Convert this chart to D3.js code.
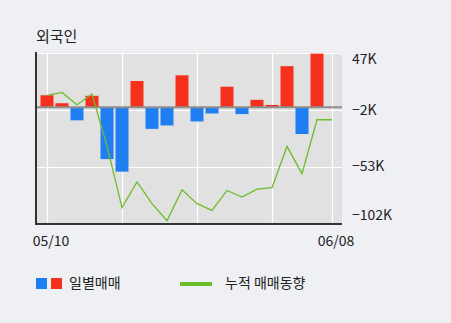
<!DOCTYPE html>
<html><head><meta charset="utf-8">
<script src="https://cdn.jsdelivr.net/npm/d3@7/dist/d3.min.js"></script>
<style>
html,body{margin:0;padding:0;background:#eef0f3;}
svg{display:block;}
text{font-family:"Noto Sans CJK KR","Noto Sans",sans-serif;fill:#222;}
</style></head><body>
<script>
// Data (values in thousands of shares)
const dates = ["05/10","05/11","05/12","05/13","05/16","05/17","05/18","05/19","05/20","05/23",
               "05/24","05/25","05/26","05/27","05/30","05/31","06/02","06/03","06/07","06/08"];
const daily = [10.5, 3.5, -11.5, 10, -45.5, -56.5, 23, -19, -16, 28,
               -12.5, -5.5, 18, -6, 6.5, 2, 36, -23.5, 47, 0];
const cumulative = [10.4, 13, 2.2, 11.6, -34, -88, -65.6, -84.6, -99.6, -72.4,
                    -84.6, -90.5, -73, -78.8, -71.8, -70.6, -34.4, -58.3, -11, -11];
const yTickLabels = ["47K", "-2K", "-53K", "-102K"];
const xLabelDates = ["05/10", "06/08"];
const gridDates = ["05/10", "05/17", "05/24", "05/31", "06/08"];
const yMin = -102, yMax = 48;

const W = 451, H = 323;
const pLeft = 37, pRight = 342, pTop = 52.5, pBottom = 223.5;

const svg = d3.select("body").append("svg").attr("width", W).attr("height", H);

const x = d3.scalePoint().domain(dates).range([47, 332]);
const y = d3.scaleLinear().domain([yMin, yMax]).range([pBottom, pTop]);

// plot background
svg.append("rect").attr("x", pLeft).attr("y", pTop).attr("width", pRight - pLeft).attr("height", pBottom - pTop)
  .attr("fill", "#e1e1e1");

// horizontal gridlines (evenly spaced ticks)
const tickPos = yTickLabels.map((d, i) => pTop + i * (pBottom - pTop) / (yTickLabels.length - 1));
svg.append("g").selectAll("line").data(tickPos.slice(0, 3)).join("line")
  .attr("x1", pLeft).attr("x2", pRight)
  .attr("y1", d => Math.round(d) + 0.5).attr("y2", d => Math.round(d) + 0.5)
  .attr("stroke", "#fff").attr("stroke-width", 1.2);

// vertical gridlines
svg.append("g").selectAll("line").data(gridDates).join("line")
  .attr("x1", d => Math.round(x(d)) + 0.5).attr("x2", d => Math.round(x(d)) + 0.5)
  .attr("y1", pTop).attr("y2", pBottom)
  .attr("stroke", "#fff").attr("stroke-width", 1.2);

// bars
const bw = 13;
svg.append("g").selectAll("rect").data(dates.map((d, i) => ({d, v: daily[i]})).filter(o => o.v !== 0)).join("rect")
  .attr("x", o => x(o.d) - bw / 2)
  .attr("width", bw)
  .attr("y", o => y(Math.max(0, o.v)))
  .attr("height", o => Math.abs(y(o.v) - y(0)))
  .attr("fill", o => o.v >= 0 ? "#f5301c" : "#1f7ef2");

// zero line
svg.append("line").attr("x1", pLeft).attr("x2", pRight)
  .attr("y1", y(0)).attr("y2", y(0))
  .attr("stroke", "#8e8e8e").attr("stroke-width", 2);

// cumulative line
svg.append("path")
  .datum(dates.map((d, i) => [x(d), y(cumulative[i])]))
  .attr("d", d3.line())
  .attr("fill", "none").attr("stroke", "#6cbd2a").attr("stroke-width", 1.3);

// axes lines
svg.append("line").attr("x1", 36).attr("x2", 36).attr("y1", 52).attr("y2", 225)
  .attr("stroke", "#333").attr("stroke-width", 2);
svg.append("line").attr("x1", 35).attr("x2", pRight).attr("y1", 224).attr("y2", 224)
  .attr("stroke", "#333").attr("stroke-width", 2);

// y labels
const labelY = [59, 110, 166, 215];
svg.append("g").selectAll("text").data(yTickLabels).join("text")
  .attr("x", 352).attr("y", (d, i) => labelY[i])
  .attr("dy", "0.35em").attr("font-size", 14).attr("fill", "#333")
  .text(d => d.replace("-", "\u2212"));

// x labels
svg.append("g").selectAll("text").data(xLabelDates).join("text")
  .attr("x", d => x(d) + 4).attr("y", 241).attr("dy", "0.35em")
  .attr("text-anchor", "middle").attr("font-size", 14).attr("fill", "#333")
  .text(d => d);

// title
svg.append("text").attr("x", 36).attr("y", 37).attr("dy", "0.35em")
  .attr("font-size", 15).attr("fill", "#333").text("외국인");

// legend
svg.append("rect").attr("x", 36).attr("y", 278).attr("width", 11).attr("height", 11).attr("fill", "#1f7ef2");
svg.append("rect").attr("x", 51).attr("y", 278).attr("width", 11).attr("height", 11).attr("fill", "#f5301c");
svg.append("text").attr("x", 69).attr("y", 283).attr("dy", "0.35em").attr("font-size", 14).attr("fill", "#333").text("일별매매");
svg.append("line").attr("x1", 180).attr("x2", 212).attr("y1", 284).attr("y2", 284)
  .attr("stroke", "#6cbd2a").attr("stroke-width", 4);
svg.append("text").attr("x", 225).attr("y", 283).attr("dy", "0.35em").attr("font-size", 14).attr("fill", "#333").text("누적 매매동향");
</script>
</body></html>
